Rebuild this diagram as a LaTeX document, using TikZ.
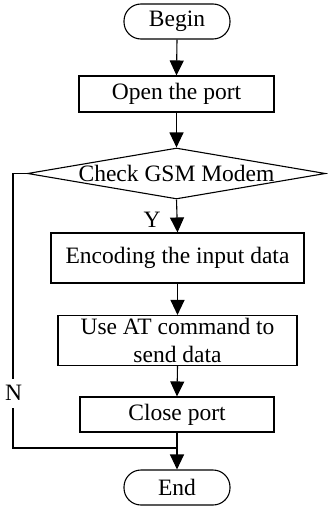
\documentclass[tikz,border=0pt]{standalone}
\usepackage{fontspec}
\setmainfont{Liberation Serif}
\usetikzlibrary{shapes.geometric,arrows.meta}
\begin{document}
\begin{tikzpicture}[x=1pt,y=-1pt,
  every node/.style={font=\fontsize{23.5}{28}\selectfont},
  box/.style={draw,line width=1.1pt,rectangle,inner sep=0pt,align=center},
  term/.style={draw,line width=1.1pt,rectangle,rounded corners=17pt,inner sep=0pt,minimum width=106pt,minimum height=35pt},
  arr/.style={line width=1.1pt,-{Triangle[length=15pt,width=14pt]}},
  lin/.style={line width=1.1pt}]
\useasboundingbox (0,0) rectangle (327,506);
\node[term] (begin) at (177,21.5) {Begin};
\node[box,minimum width=195pt,minimum height=36pt] (open) at (176.5,94) {Open the port};
\node[draw,line width=1.1pt,diamond,inner sep=0pt,minimum width=298pt,minimum height=51pt,label=center:{Check GSM Modem}] (check) at (176.5,173.5) {};
\node[box,minimum width=253pt,minimum height=50pt] (encode) at (177.5,258) {Encoding the input data};
\node[box,minimum width=239pt,minimum height=50pt] (useat) at (177.5,340.5) {Use AT command to\\send data};
\node[box,minimum width=194pt,minimum height=35pt] (close) at (177,414.5) {Close port};
\node[term] (end) at (177,487.5) {End};
\draw[arr] (begin.south) -- (open.north);
\draw[arr] (open.south) -- (check.north);
\draw[arr] (check.south) -- (encode.north);
\draw[arr] (encode.south) -- (useat.north);
\draw[arr] (useat.south) -- (close.north);
\draw[arr] (close.south) -- (end.north);
\coordinate (lc) at (13,448);
\coordinate (join) at (177,448);
\draw[lin] (check.west) -| (lc) -- (join);
\node[fill=white,inner sep=1pt,minimum height=29pt] (n) at (13.5,393) {N};
\node (y) at (152,220) {Y};
\end{tikzpicture}
\end{document}
